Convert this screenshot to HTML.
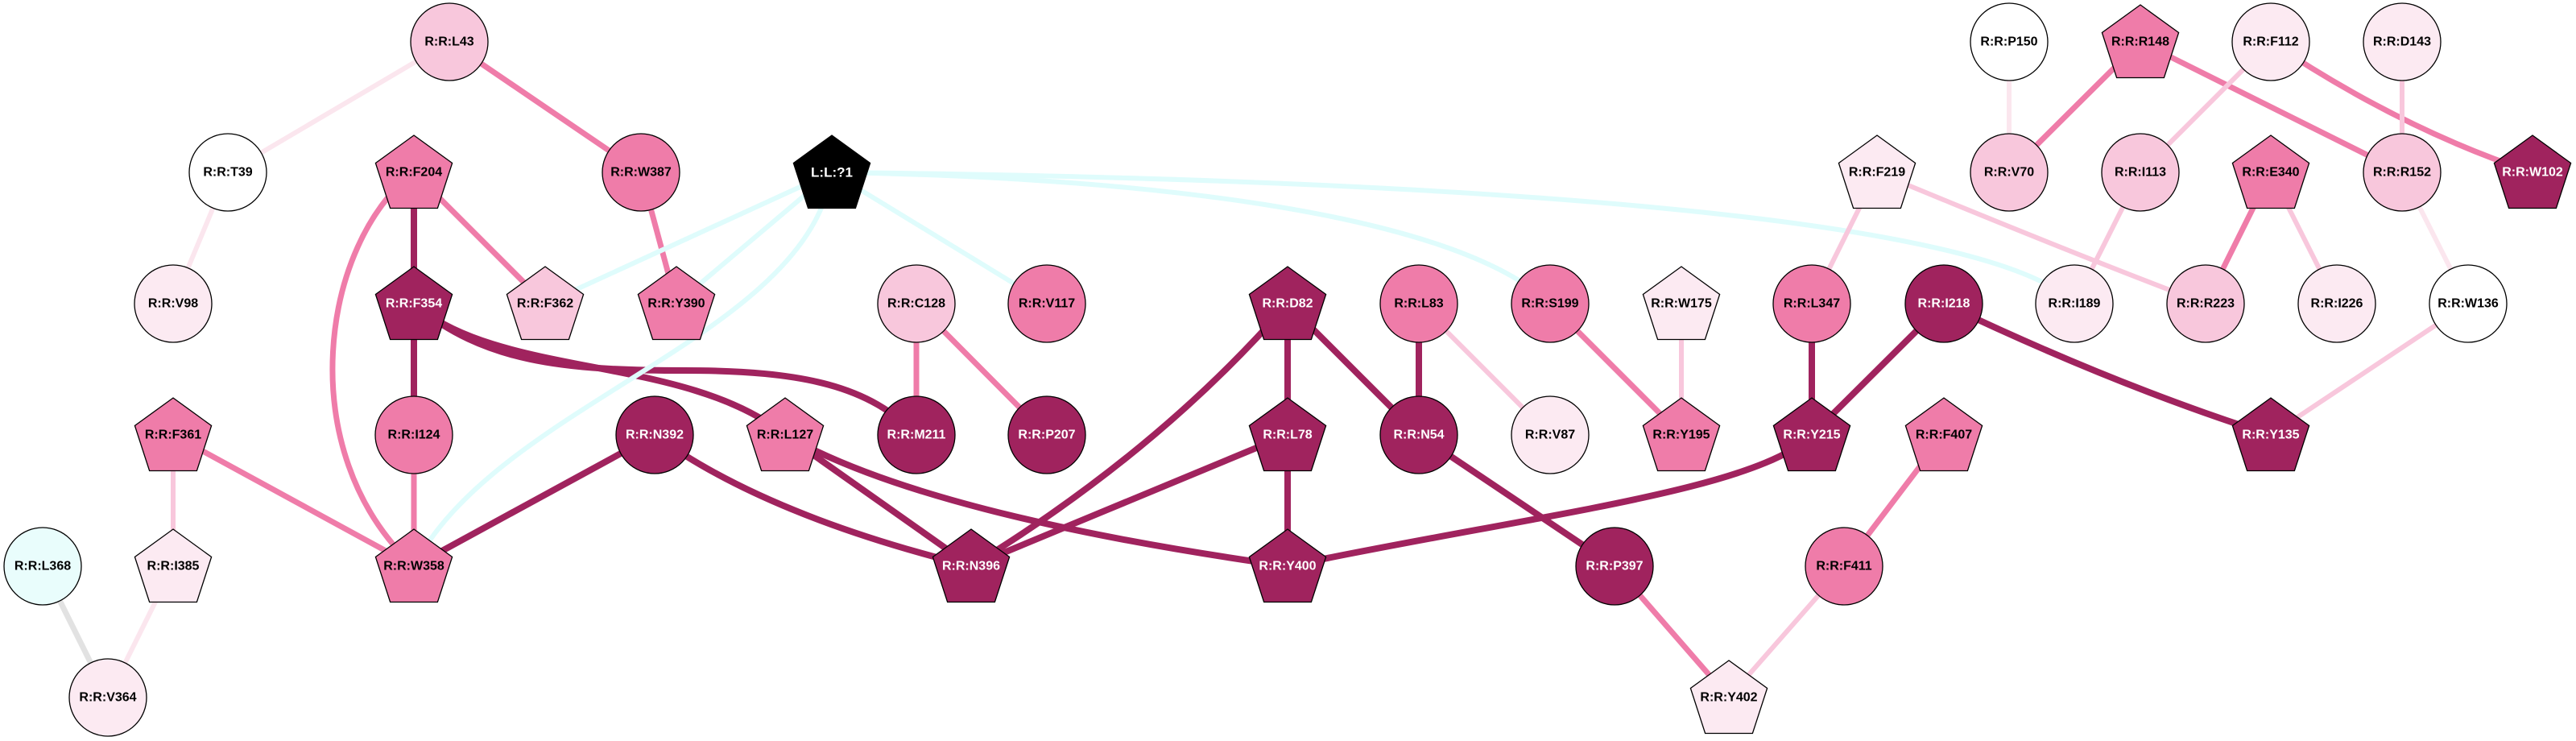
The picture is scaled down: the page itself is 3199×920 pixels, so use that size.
<!DOCTYPE html>
<html><head><meta charset="utf-8"><style>
html,body{margin:0;padding:0;background:#fff;}
svg{display:block;}
text{font-family:"Liberation Sans",Arial,sans-serif;font-weight:bold;font-size:16px;text-anchor:middle;dominant-baseline:central;}
.w{fill:#fff;}
.n{stroke:#000;stroke-width:1.3;}
.D{fill:#a0235e;} .M{fill:#ef7ca9;} .L{fill:#f8c7dc;} .V{fill:#fceaf2;} .Wh{fill:#fff;} .C{fill:#e9fdfc;} .K{fill:#000;}
.eD{stroke:#a0235e;stroke-width:8;fill:none;}
.eM{stroke:#ef7ca9;stroke-width:7;fill:none;}
.eL{stroke:#f8c7dc;stroke-width:6;fill:none;}
.eV{stroke:#fbe6ee;stroke-width:6;fill:none;}
.eC{stroke:#dffcfc;stroke-width:6;fill:none;}
.eG{stroke:#e2e2e2;stroke-width:7;fill:none;}
</style></head><body>
<svg width="3199" height="920" viewBox="0 0 3199 920" xmlns="http://www.w3.org/2000/svg">
<defs>
<polygon id="p" points="0,-50 47.6,-15.5 29.4,40.5 -29.4,40.5 -47.6,-15.5"/>
</defs>
<!-- edges -->
<g>
<line class="eV" x1="558" y1="52" x2="283" y2="214"/>
<line class="eM" x1="558" y1="52" x2="796" y2="214"/>
<line class="eV" x1="283" y1="214" x2="215" y2="377"/>
<line class="eD" x1="514" y1="214" x2="514" y2="377"/>
<line class="eM" x1="514" y1="214" x2="677" y2="377"/>
<path class="eM" d="M514,214 C400,300 360,560 514,703"/>
<line class="eM" x1="796" y1="214" x2="840" y2="377"/>
<line class="eD" x1="514" y1="377" x2="514" y2="540"/>
<path class="eD" d="M514,377 C600,450 700,460 850,460 C1000,460 1080,480 1138,540"/>
<path class="eD" d="M514,377 C620,470 850,440 975,540"/>
<line class="eM" x1="514" y1="540" x2="514" y2="703"/>
<line class="eL" x1="215" y1="540" x2="215" y2="703"/>
<line class="eM" x1="215" y1="540" x2="514" y2="703"/>
<line class="eD" x1="813" y1="540" x2="514" y2="703"/>
<path class="eD" d="M813,540 Q950,640 1206,703"/>
<line class="eD" x1="975" y1="540" x2="1206" y2="703"/>
<path class="eD" d="M975,540 Q1150,640 1599,703"/>
<line class="eG" x1="53" y1="703" x2="134" y2="866"/>
<line class="eV" x1="215" y1="703" x2="134" y2="866"/>
<line class="eC" x1="1033" y1="214" x2="677" y2="377"/>
<line class="eC" x1="1033" y1="214" x2="840" y2="377"/>
<path class="eC" d="M1033,214 C1000,420 620,500 514,703"/>
<line class="eC" x1="1033" y1="214" x2="1300" y2="377"/>
<path class="eC" d="M1033,214 C1400,220 1800,260 1925,377"/>
<path class="eC" d="M1033,214 C1600,220 2450,250 2576,377"/>
<line class="eM" x1="1138" y1="377" x2="1138" y2="540"/>
<line class="eM" x1="1138" y1="377" x2="1300" y2="540"/>
<line class="eD" x1="1599" y1="377" x2="1599" y2="540"/>
<line class="eD" x1="1599" y1="377" x2="1762" y2="540"/>
<path class="eD" d="M1599,377 Q1440,560 1206,703"/>
<line class="eD" x1="1599" y1="540" x2="1206" y2="703"/>
<line class="eD" x1="1599" y1="540" x2="1599" y2="703"/>
<line class="eD" x1="1762" y1="377" x2="1762" y2="540"/>
<line class="eL" x1="1762" y1="377" x2="1925" y2="540"/>
<line class="eM" x1="1925" y1="377" x2="2088" y2="540"/>
<line class="eL" x1="2088" y1="377" x2="2088" y2="540"/>
<line class="eD" x1="1762" y1="540" x2="2005" y2="703"/>
<line class="eM" x1="2005" y1="703" x2="2147" y2="866"/>
<path class="eD" d="M1599,703 C1900,640 2180,610 2250,540"/>
<line class="eL" x1="2331" y1="214" x2="2250" y2="377"/>
<path class="eL" d="M2331,214 Q2577,316 2739,377"/>
<line class="eD" x1="2250" y1="377" x2="2250" y2="540"/>
<line class="eD" x1="2414" y1="377" x2="2250" y2="540"/>
<path class="eD" d="M2414,377 Q2630,480 2820,540"/>
<line class="eM" x1="2414" y1="540" x2="2290" y2="703"/>
<line class="eL" x1="2290" y1="703" x2="2147" y2="866"/>
<line class="eV" x1="2495" y1="52" x2="2495" y2="214"/>
<line class="eM" x1="2658" y1="52" x2="2495" y2="214"/>
<line class="eM" x1="2658" y1="52" x2="2983" y2="214"/>
<line class="eL" x1="2820" y1="52" x2="2658" y2="214"/>
<path class="eM" d="M2820,52 Q2983,161 3145,214"/>
<line class="eL" x1="2983" y1="52" x2="2983" y2="214"/>
<line class="eL" x1="2658" y1="214" x2="2576" y2="377"/>
<line class="eM" x1="2820" y1="214" x2="2739" y2="377"/>
<line class="eL" x1="2820" y1="214" x2="2902" y2="377"/>
<line class="eV" x1="2983" y1="214" x2="3065" y2="377"/>
<line class="eL" x1="3065" y1="377" x2="2820" y2="540"/>
</g>
<!-- nodes -->
<g class="n">
<ellipse class="L" cx="558" cy="52" rx="48" ry="48"/>
<ellipse class="Wh" cx="283" cy="214" rx="48" ry="48"/>
<use href="#p" class="M" x="514" y="218"/>
<ellipse class="M" cx="796" cy="214" rx="48" ry="48"/>
<use href="#p" class="K" x="1033" y="218"/>
<ellipse class="V" cx="215" cy="377" rx="48" ry="48"/>
<use href="#p" class="D" x="514" y="381"/>
<use href="#p" class="L" x="677" y="381"/>
<use href="#p" class="M" x="840" y="381"/>
<use href="#p" class="M" x="215" y="544"/>
<ellipse class="M" cx="514" cy="540" rx="48" ry="48"/>
<ellipse class="D" cx="813" cy="540" rx="48" ry="48"/>
<use href="#p" class="M" x="975" y="544"/>
<ellipse class="C" cx="53" cy="703" rx="48" ry="48"/>
<use href="#p" class="V" x="215" y="707"/>
<use href="#p" class="M" x="514" y="707"/>
<ellipse class="V" cx="134" cy="866" rx="48" ry="48"/>
<ellipse class="L" cx="1138" cy="377" rx="48" ry="48"/>
<ellipse class="M" cx="1300" cy="377" rx="48" ry="48"/>
<use href="#p" class="D" x="1599" y="381"/>
<ellipse class="M" cx="1762" cy="377" rx="48" ry="48"/>
<ellipse class="M" cx="1925" cy="377" rx="48" ry="48"/>
<use href="#p" class="V" x="2088" y="381"/>
<ellipse class="D" cx="1138" cy="540" rx="48" ry="48"/>
<ellipse class="D" cx="1300" cy="540" rx="48" ry="48"/>
<use href="#p" class="D" x="1599" y="544"/>
<ellipse class="D" cx="1762" cy="540" rx="48" ry="48"/>
<ellipse class="V" cx="1925" cy="540" rx="48" ry="48"/>
<use href="#p" class="M" x="2088" y="544"/>
<use href="#p" class="D" x="1206" y="707"/>
<use href="#p" class="D" x="1599" y="707"/>
<ellipse class="D" cx="2005" cy="703" rx="48" ry="48"/>
<use href="#p" class="V" x="2147" y="870"/>
<ellipse class="Wh" cx="2495" cy="52" rx="48" ry="48"/>
<use href="#p" class="M" x="2658" y="56"/>
<ellipse class="V" cx="2820" cy="52" rx="48" ry="48"/>
<ellipse class="V" cx="2983" cy="52" rx="48" ry="48"/>
<use href="#p" class="V" x="2331" y="218"/>
<ellipse class="L" cx="2495" cy="214" rx="48" ry="48"/>
<ellipse class="L" cx="2658" cy="214" rx="48" ry="48"/>
<use href="#p" class="M" x="2820" y="218"/>
<ellipse class="L" cx="2983" cy="214" rx="48" ry="48"/>
<use href="#p" class="D" x="3145" y="218"/>
<ellipse class="M" cx="2250" cy="377" rx="48" ry="48"/>
<ellipse class="D" cx="2414" cy="377" rx="48" ry="48"/>
<ellipse class="V" cx="2576" cy="377" rx="48" ry="48"/>
<ellipse class="L" cx="2739" cy="377" rx="48" ry="48"/>
<ellipse class="V" cx="2902" cy="377" rx="48" ry="48"/>
<ellipse class="Wh" cx="3065" cy="377" rx="48" ry="48"/>
<use href="#p" class="D" x="2250" y="544"/>
<use href="#p" class="M" x="2414" y="544"/>
<use href="#p" class="D" x="2820" y="544"/>
<ellipse class="M" cx="2290" cy="703" rx="48" ry="48"/>
</g>
<!-- labels -->
<g>
<text x="558" y="52">R:R:L43</text>
<text x="283" y="214">R:R:T39</text>
<text x="514" y="214">R:R:F204</text>
<text x="796" y="214">R:R:W387</text>
<text class="w" x="1033" y="214" style="font-size:17px">L:L:?1</text>
<text x="215" y="377">R:R:V98</text>
<text class="w" x="514" y="377">R:R:F354</text>
<text x="677" y="377">R:R:F362</text>
<text x="840" y="377">R:R:Y390</text>
<text x="215" y="540">R:R:F361</text>
<text x="514" y="540">R:R:I124</text>
<text class="w" x="813" y="540">R:R:N392</text>
<text x="975" y="540">R:R:L127</text>
<text x="53" y="703">R:R:L368</text>
<text x="215" y="703">R:R:I385</text>
<text x="514" y="703">R:R:W358</text>
<text x="134" y="866">R:R:V364</text>
<text x="1138" y="377">R:R:C128</text>
<text x="1300" y="377">R:R:V117</text>
<text class="w" x="1599" y="377">R:R:D82</text>
<text x="1762" y="377">R:R:L83</text>
<text x="1925" y="377">R:R:S199</text>
<text x="2088" y="377">R:R:W175</text>
<text class="w" x="1138" y="540">R:R:M211</text>
<text class="w" x="1300" y="540">R:R:P207</text>
<text class="w" x="1599" y="540">R:R:L78</text>
<text class="w" x="1762" y="540">R:R:N54</text>
<text x="1925" y="540">R:R:V87</text>
<text x="2088" y="540">R:R:Y195</text>
<text class="w" x="1206" y="703">R:R:N396</text>
<text class="w" x="1599" y="703">R:R:Y400</text>
<text class="w" x="2005" y="703">R:R:P397</text>
<text x="2147" y="866">R:R:Y402</text>
<text x="2495" y="52">R:R:P150</text>
<text x="2658" y="52">R:R:R148</text>
<text x="2820" y="52">R:R:F112</text>
<text x="2983" y="52">R:R:D143</text>
<text x="2331" y="214">R:R:F219</text>
<text x="2495" y="214">R:R:V70</text>
<text x="2658" y="214">R:R:I113</text>
<text x="2820" y="214">R:R:E340</text>
<text x="2983" y="214">R:R:R152</text>
<text class="w" x="3145" y="214">R:R:W102</text>
<text x="2250" y="377">R:R:L347</text>
<text class="w" x="2414" y="377">R:R:I218</text>
<text x="2576" y="377">R:R:I189</text>
<text x="2739" y="377">R:R:R223</text>
<text x="2902" y="377">R:R:I226</text>
<text x="3065" y="377">R:R:W136</text>
<text class="w" x="2250" y="540">R:R:Y215</text>
<text x="2414" y="540">R:R:F407</text>
<text class="w" x="2820" y="540">R:R:Y135</text>
<text x="2290" y="703">R:R:F411</text>
</g>
</svg>
</body></html>
